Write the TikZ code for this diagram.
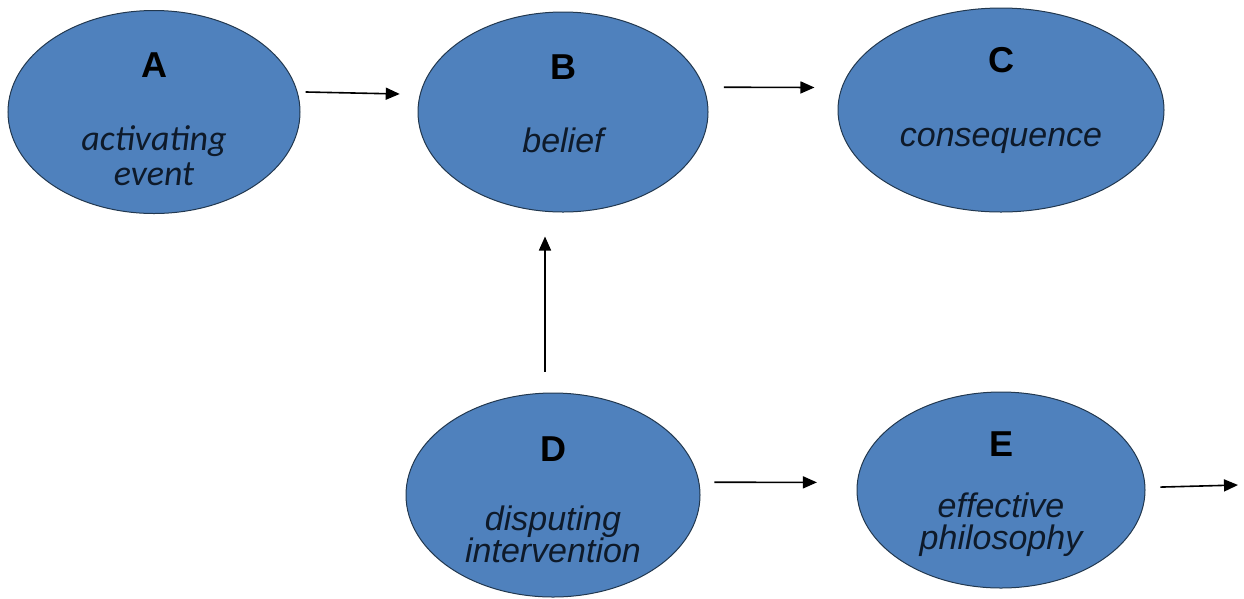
\documentclass[tikz,border=0pt]{standalone}
\usepackage{fontspec}
\usetikzlibrary{shapes.geometric}
\usetikzlibrary{arrows.meta}
\newfontfamily\arialfont{Liberation Sans}
\newfontfamily\calfont{Carlito}
\definecolor{cellblue}{HTML}{4F81BD}
\definecolor{celledge}{HTML}{22384F}
\definecolor{cellink}{HTML}{0E1A2A}

\begin{document}
\begin{tikzpicture}[x=1pt, y=-1pt,
    cell/.style={ellipse, fill=cellblue, draw=celledge, line width=1pt, inner sep=0pt},
    letter/.style={font=\arialfont\bfseries\fontsize{36}{36}\selectfont},
    gist/.style={font=\arialfont\itshape\fontsize{34}{32}\selectfont, text=cellink, align=center},
    link/.style={line width=1.6pt, -{Triangle[length=14pt,width=12pt]}}]
    \useasboundingbox (0,0) rectangle (1244,598);
    \node[cell, minimum width=292pt, minimum height=203pt] (a) at (154,112) {};
    \node[cell, minimum width=290pt, minimum height=200pt] (b) at (563,112) {};
    \node[cell, minimum width=326pt, minimum height=204pt] (c) at (1001,110) {};
    \node[cell, minimum width=294pt, minimum height=204pt] (d) at (553,495) {};
    \node[cell, minimum width=288pt, minimum height=196pt] (e) at (1001,490) {};
    \node[letter] (la) at (154,65) {A};
    \node[letter] (lb) at (563,67) {B};
    \node[letter] (lc) at (1001,60) {C};
    \node[letter] (ld) at (553,449) {D};
    \node[letter] (le) at (1001,444) {E};
    \node[gist, font=\calfont\itshape\fontsize{36}{35}\selectfont] (ta) at (154,156) {activating\\event};
    \node[gist] (tb) at (563,140) {belief};
    \node[gist] (tc) at (1001,141) {consequence};
    \node[gist] (td) at (553,534) {disputing\\intervention};
    \node[gist] (te) at (1001,525) {effective\\philosophy};
    \coordinate (eout) at (1238,485);
    \draw[link, shorten <=8pt, shorten >=20pt] (a.8) -- (b.173);
    \draw[link, shorten <=20pt, shorten >=27pt] (b.10) -- (c.172);
    \draw[link, shorten <=21pt, shorten >=24pt] ([xshift=-8pt]d.north) -- ([xshift=-18pt]b.south);
    \draw[link, shorten <=15pt, shorten >=40pt] (d.5) -- (e.177);
    \draw[link, shorten <=15pt] (e.1) -- (eout);
\end{tikzpicture}
\end{document}
